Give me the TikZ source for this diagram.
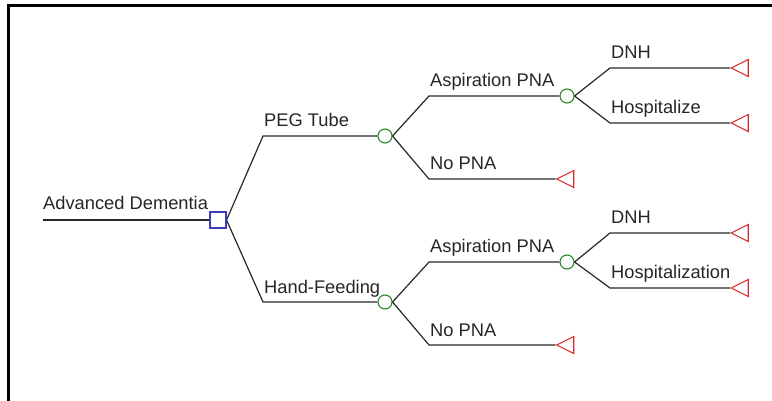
\documentclass[tikz,border=0pt]{standalone}
\usepackage{fontspec}
\setmainfont{Liberation Sans}
\usetikzlibrary{shapes.geometric}
\definecolor{decblue}{RGB}{60,60,180}
\definecolor{chgreen}{RGB}{40,140,40}
\definecolor{endred}{RGB}{220,40,40}
\definecolor{branch}{RGB}{40,40,40}
\tikzset{
  decision/.style={draw=decblue, line width=1.1pt, rectangle, minimum size=16pt, inner sep=0, fill=white},
  chance/.style={draw=chgreen, line width=1.1pt, circle, minimum size=14pt, inner sep=0, fill=white},
  terminal/.style={draw=endred, line width=1.1pt, isosceles triangle, shape border rotate=180,
    isosceles triangle apex angle=53.13, minimum size=17pt, inner sep=0, fill=white},
  edge/.style={draw=branch, line width=1.2pt},
  lab/.style={anchor=base west, inner sep=0, text=black!85, font=\fontsize{18.3}{20}\selectfont},
}
\begin{document}
\begin{tikzpicture}[x=1pt, y=-1pt]
\useasboundingbox (0,0) rectangle (772,401);
% frame edges
\draw[line width=3pt] (772,6) -- (8,6) -- (8,401);

% root and decision
\coordinate (r0) at (43,220);
\node[decision] (sq) at (218,220) {};

% first-level branch points and chance nodes
\coordinate (k1) at (263,136);
\coordinate (k2) at (263,302);
\node[chance] (peg) at (385,136) {};
\node[chance] (hf) at (385,302) {};

% PEG tube subtree
\coordinate (k3) at (429,96);
\coordinate (k4) at (429,179);
\node[chance] (pasp) at (567,96) {};
\node[terminal] (pno) at (568.5,179) {};
\coordinate (k5) at (610,68);
\coordinate (k6) at (610,123);
\node[terminal] (pdnh) at (743,68) {};
\node[terminal] (phos) at (743,123) {};

% Hand-feeding subtree
\coordinate (k7) at (429,262);
\coordinate (k8) at (429,345);
\node[chance] (hasp) at (567,262) {};
\node[terminal] (hno) at (568.5,345) {};
\coordinate (k9) at (610,233);
\coordinate (k10) at (610,288);
\node[terminal] (hdnh) at (743,233) {};
\node[terminal] (hhos) at (743,288) {};

% connectors
\draw[edge] (r0) -- (sq.west);
\draw[edge] (sq.east) -- (k1) -- (peg.west);
\draw[edge] (sq.east) -- (k2) -- (hf.west);
\draw[edge] (peg.east) -- (k3) -- (pasp.west);
\draw[edge] (peg.east) -- (k4) -- (pno.apex);
\draw[edge] (pasp.east) -- (k5) -- (pdnh.apex);
\draw[edge] (pasp.east) -- (k6) -- (phos.apex);
\draw[edge] (hf.east) -- (k7) -- (hasp.west);
\draw[edge] (hf.east) -- (k8) -- (hno.apex);
\draw[edge] (hasp.east) -- (k9) -- (hdnh.apex);
\draw[edge] (hasp.east) -- (k10) -- (hhos.apex);

% redraw nodes above the lines
\node[decision] at (sq) {};

% labels
\node[lab] at ([shift={(0,-10)}]r0) {Advanced Dementia};
\node[lab] at ([shift={(1,-9)}]k1) {PEG Tube};
\node[lab] at ([shift={(1,-9)}]k2) {Hand-Feeding};
\node[lab] at ([shift={(1,-9)}]k3) {Aspiration PNA};
\node[lab] at ([shift={(1,-9)}]k4) {No PNA};
\node[lab] at ([shift={(1,-9)}]k5) {DNH};
\node[lab] at ([shift={(1,-9)}]k6) {Hospitalize};
\node[lab] at ([shift={(1,-9)}]k7) {Aspiration PNA};
\node[lab] at ([shift={(1,-9)}]k8) {No PNA};
\node[lab] at ([shift={(1,-9)}]k9) {DNH};
\node[lab] at ([shift={(1,-9)}]k10) {Hospitalization};
\end{tikzpicture}
\end{document}
